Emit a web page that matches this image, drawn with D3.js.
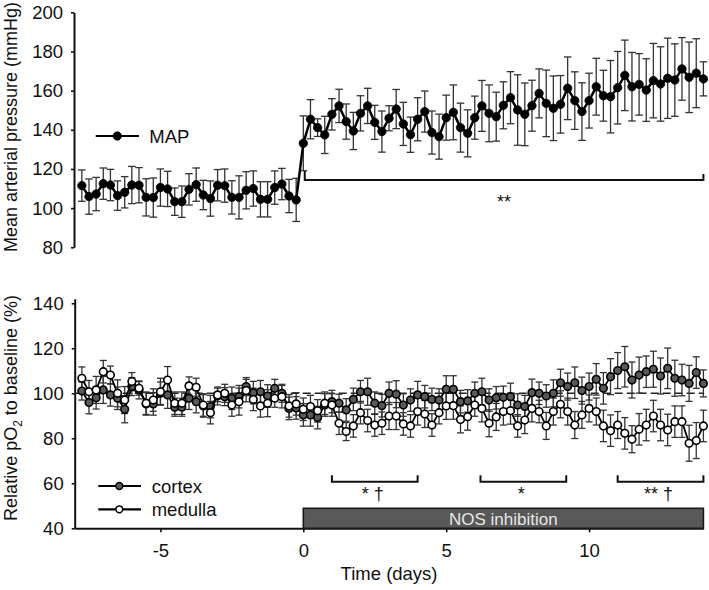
<!DOCTYPE html>
<html><head><meta charset="utf-8">
<script src="https://cdn.jsdelivr.net/npm/d3@7"></script>
<style>body{margin:0;background:#fff} svg{display:block} text{font-family:"Liberation Sans",Arial,sans-serif}</style>
</head><body><svg id="c" width="709" height="590"></svg>
<script>
const days = [-7.75,-7.5,-7.25,-7,-6.75,-6.5,-6.25,-6,-5.75,-5.5,-5.25,-5,-4.75,-4.5,-4.25,-4,-3.75,-3.5,-3.25,-3,-2.75,-2.5,-2.25,-2,-1.75,-1.5,-1.25,-1,-0.75,-0.5,-0.25,
  0,0.25,0.5,0.75,1,1.25,1.5,1.75,2,2.25,2.5,2.75,3,3.25,3.5,3.75,4,4.25,4.5,4.75,5,5.25,5.5,5.75,6,6.25,6.5,6.75,7,7.25,7.5,7.75,8,8.25,8.5,8.75,9,9.25,9.5,9.75,10,10.25,10.5,10.75,11,11.25,11.5,11.75,12,12.25,12.5,12.75,13,13.25,13.5,13.75,14];
const mapMean = [111.5,105.9,107.2,112.5,111.8,106.4,108.1,111.8,111.7,105.5,105.4,110.5,109.8,103.3,103.3,109.6,112.0,106.7,104.9,111.7,111.5,105.5,105.5,109.1,110.0,104.5,104.5,110.5,112.3,106.2,104.2,
  133.1,145.4,141.1,137.4,147.9,152.2,144.2,139.4,148.4,152.2,143.8,139.1,145.9,
  150.6,143.0,137.5,145.4,149.3,138.6,136.5,146.2,148.9,141.1,138.2,146.2,152.2,148.4,146.7,152.5,156.4,150.1,147.9,152.3,158.6,153.5,151.0,153.0,161.2,154.9,149.3,154.9,162.0,157.4,156.9,161.5,167.8,162.0,163.2,160.3,165.1,163.4,166.3,165.4,171.1,166.8,168.9,166.0];
const mapErr = [8,9,8.5,8,8,7.5,8,9.5,9,9.5,10,9.5,9,7,8,8,8.5,7.5,9,8,8.5,8.5,11,9.5,9,9,9,8.5,8,8.5,11,
  14,10,4.5,9.5,8,8.5,9,9.5,9,9,8.7,10.5,
  6.4,10,11,9,11,10.5,11,11.5,11.5,14,12.5,12,11,13,14.5,12.5,12,13.3,18,16,13,12.5,17,16.5,14.7,16,14.7,14.7,14,14.5,13,18.5,18.5,18,17.5,15.7,16,19,19,20.5,18.5,16,18,17.6,8.7];
const cortexMean = [101,95.9,98,101.5,99.3,97.8,92.9,103,101.5,95.3,95.3,100,99.3,93.8,93.8,97.8,96.3,94.4,94.1,98.8,98.5,97.8,98.5,103,100.3,100.7,98.8,102.2,100,93.3,93.5,
  90.4,90.4,89.2,94.8,96.3,95.6,92.6,97.3,100.7,100.7,95.6,94.5,100,99.6,94.8,97,99.3,98.5,97.3,97,101.8,101.8,96.3,96.6,100,100.7,97,98,
  98.2,98.5,94.8,94.1,100.3,100,98.8,100,104.7,103,104.7,101.2,103,106.2,102.2,107.4,110.1,111.8,105.9,108.1,109.6,110.7,107.7,111.1,106.7,105.9,104.4,109.2,104.4];
const cortexErr = [4,5,5,6,5,5,6,4,4,5,5,5,6,4,4,5,5,5,5,4,4,5,5,4,5,5,5,4,4,5,5,
  5,5,5,5,5,4,5,5,5,6,5,5,5,6,5,5,6,5,5,5,6,6,5,5,5,6,5,5,
  5,6,5,5,6,5,5,6,6,6,7,6,6,7,7,8,8,9,8,8,7,8,8,9,8,7,8,7,6];
const medullaMean = [106.7,100.7,101.5,109.6,108.1,100,97,105.2,102.2,95.6,97,100.7,105.9,95.6,95.6,103.3,102.7,94.8,91.4,99.3,100,94.8,96.3,101.2,97.3,94.4,95.6,97.8,98.5,94.4,95.3,
  92.9,94.1,92.2,95.6,94.8,86.7,83,85.5,91.4,87.9,85.9,86.7,89.9,89.9,86.4,85.5,91.9,90.8,85.9,91.4,94.4,94.5,88.4,89.6,94.8,93.3,86.7,89.5,
  91.9,92.3,85.5,88.1,93.3,91.9,85.5,91.9,95.1,91.9,85.9,90.4,93.3,91.9,85.5,83.4,85.9,82.2,79.6,84,85.9,89.9,85.9,83.7,87.4,87.4,77.8,79,85.5];
const medullaErr = [5,5,6,5,4,6,6,4,3,5,5,6,6,5,5,4,4,5,5,3,4,5,6,5,5,5,6,4,5,5,5,
  5,5,5,5,5,5,4,5,5,5,5,5,6,6,5,5,6,6,5,5,6,6,6,6,5,6,6,6,
  6,6,5,6,6,5,6,6,6,6,6,6,6,6,7,7,6,7,6,7,7,7,7,7,7,7,8,8,7];
const xTicks = [-5,0,5,10];
const xTickLabels = ["-5","0","5","10"];
const mapTicks = [80,100,120,140,160,180,200];
const po2Ticks = [40,60,80,100,120,140];
const mapBracket = {from:0.05, to:14, label:"**"};
const po2Brackets = [{from:1,to:4,label:"* †"},{from:6.2,to:9.2,label:"*"},{from:11,to:14,label:"** †"}];
const nosPeriod = {from:0, to:14, label:"NOS inhibition"};
const baselineLevel = 100;

const svg = d3.select("#c");
const FS = 18.5;
const x = d3.scaleLinear().domain([-8,14]).range([74.7,703.4]);
const yTop = d3.scaleLinear().domain([80,200]).range([247.3,12.3]);
const yBot = d3.scaleLinear().domain([40,142]).range([528.3,298.8]);

function styleAxis(g){
  g.select(".domain").attr("stroke","#111").attr("stroke-width",2);
  g.selectAll(".tick line").attr("stroke","#111").attr("stroke-width",1.6);
  g.selectAll(".tick text").attr("font-size",FS).attr("fill","#111").attr("font-family","Liberation Sans, Arial, sans-serif");
}
// axes
svg.append("g").attr("transform",`translate(${x(-8)-0.7},0)`)
  .call(d3.axisLeft(yTop).tickValues(mapTicks).tickSize(3).tickSizeOuter(0).tickPadding(8)).call(styleAxis);
svg.append("g").attr("transform",`translate(${x(-8)},0)`)
  .call(d3.axisLeft(yBot).tickValues(po2Ticks).tickSize(3).tickSizeOuter(0).tickPadding(8)).call(styleAxis);
svg.append("g").attr("transform",`translate(0,${yBot(40)})`)
  .call(d3.axisBottom(x).tickValues(xTicks).tickFormat((d,i)=>xTickLabels[i]).tickSize(4).tickSizeOuter(0).tickPadding(11.5)).call(styleAxis);

// titles
svg.append("text").attr("x",x(3)).attr("y",580).attr("text-anchor","middle").attr("font-size",FS).attr("fill","#111").text("Time (days)");
svg.append("text").attr("transform","translate(17,127) rotate(-90)").attr("text-anchor","middle").attr("font-size",18).attr("fill","#111").text("Mean arterial pressure (mmHg)");
const t2 = svg.append("text").attr("transform","translate(17,408) rotate(-90)").attr("text-anchor","middle").attr("font-size",18).attr("fill","#111");
t2.append("tspan").text("Relative pO");
t2.append("tspan").attr("font-size",12).attr("dy",5).text("2");
t2.append("tspan").attr("dy",-5).text(" to baseline (%)");

// NOS bar
svg.append("rect").attr("x",x(nosPeriod.from)).attr("y",508.3).attr("width",x(nosPeriod.to)-x(nosPeriod.from)).attr("height",yBot(40)-508.3)
  .attr("fill","#595959").attr("stroke","#1a1a1a").attr("stroke-width",1.6);
svg.append("text").attr("x",(x(nosPeriod.from)+x(nosPeriod.to))/2).attr("y",524.5).attr("text-anchor","middle").attr("font-size",17).attr("fill","#e6e6e6").text(nosPeriod.label);

// dashed baseline
svg.append("line").attr("x1",x(-8)).attr("x2",x(14)).attr("y1",yBot(baselineLevel)).attr("y2",yBot(baselineLevel))
  .attr("stroke","#222").attr("stroke-width",1.5).attr("stroke-dasharray","8,4");

function errorBars(mean, err, y, cap, color){
  const g = svg.append("g").attr("stroke",color).attr("stroke-width",1.3).attr("fill","none");
  days.forEach((d,i)=>{
    const cx = x(d), y1 = y(mean[i]+err[i]), y2 = y(mean[i]-err[i]);
    g.append("line").attr("x1",cx).attr("x2",cx).attr("y1",y1).attr("y2",y2);
    g.append("line").attr("x1",cx-cap).attr("x2",cx+cap).attr("y1",y1).attr("y2",y1);
    g.append("line").attr("x1",cx-cap).attr("x2",cx+cap).attr("y1",y2).attr("y2",y2);
  });
}
function lineAndMarkers(mean, y, lw, r, fill, sw){
  const line = d3.line().x((d,i)=>x(days[i])).y(d=>y(d));
  svg.append("path").datum(mean).attr("d",line).attr("fill","none").attr("stroke","#000").attr("stroke-width",lw).attr("stroke-linejoin","round");
  svg.append("g").selectAll("circle").data(mean).join("circle")
    .attr("cx",(d,i)=>x(days[i])).attr("cy",d=>y(d)).attr("r",r).attr("fill",fill).attr("stroke","#000").attr("stroke-width",sw);
}

// top panel
errorBars(mapMean, mapErr, yTop, 3.8, "#333");
lineAndMarkers(mapMean, yTop, 2.5, 4.2, "#000", 0.8);

// bottom panel
errorBars(cortexMean, cortexErr, yBot, 3.5, "#333");
errorBars(medullaMean, medullaErr, yBot, 3.5, "#333");
lineAndMarkers(cortexMean, yBot, 1.8, 3.8, "#595959", 1.6);
lineAndMarkers(medullaMean, yBot, 1.8, 3.8, "#fff", 1.6);

// brackets
function bracket(from, to, yLine, hL, hR, label, ly, dx){
  const x1 = x(from), x2 = x(to);
  svg.append("path").attr("d",`M${x1},${yLine-hL}V${yLine}H${x2}V${yLine-hR}`).attr("fill","none").attr("stroke","#111").attr("stroke-width",2);
  svg.append("text").attr("x",(x1+x2)/2+dx).attr("y",ly).attr("text-anchor","middle").attr("font-size",18).attr("fill","#111").text(label);
}
bracket(mapBracket.from, mapBracket.to, 180, 9, 6, mapBracket.label, 208, 0);
po2Brackets.forEach(b=>bracket(b.from, b.to, 481.7, 6.5, 6.5, b.label, 500, -2));

// legends
function legendItem(x1,x2,yy,mx,r,fill,sw,label,tx,ty){
  svg.append("line").attr("x1",x1).attr("x2",x2).attr("y1",yy).attr("y2",yy).attr("stroke","#000").attr("stroke-width",2.2);
  svg.append("circle").attr("cx",mx).attr("cy",yy).attr("r",r).attr("fill",fill).attr("stroke","#000").attr("stroke-width",sw);
  svg.append("text").attr("x",tx).attr("y",ty).attr("font-size",FS).attr("fill","#111").text(label);
}
legendItem(95.7,139,136,117.3,4.2,"#000",0.8,"MAP",149.3,142.8);
legendItem(98.3,141,486,119.3,3.4,"#595959",1.5,"cortex",151.7,492.7);
legendItem(98.3,141,509.3,119.3,3.4,"#fff",1.5,"medulla",151.7,515.5);
</script></body></html>
